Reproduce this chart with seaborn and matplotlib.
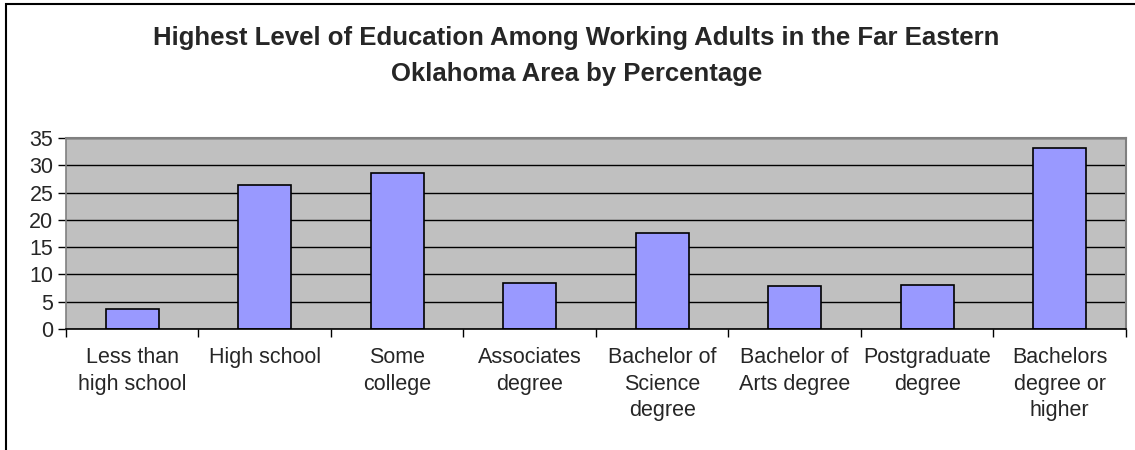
import matplotlib
matplotlib.use("Agg")
import matplotlib.pyplot as plt
from matplotlib.patches import Rectangle
from matplotlib.ticker import FixedLocator
import seaborn as sns
import pandas as pd

categories = [
    "Less than\nhigh school",
    "High school",
    "Some\ncollege",
    "Associates\ndegree",
    "Bachelor of\nScience\ndegree",
    "Bachelor of\nArts degree",
    "Postgraduate\ndegree",
    "Bachelors\ndegree or\nhigher",
]
percentages = [3.6, 26.3, 28.5, 8.4, 17.6, 7.8, 8.1, 33.2]
y_ticks = [0, 5, 10, 15, 20, 25, 30, 35]

title = ("Highest Level of Education Among Working Adults in the Far Eastern\n"
         "Oklahoma Area by Percentage")

sns.set_theme(style="white")
plt.rcParams["font.family"] = ["Liberation Sans", "DejaVu Sans"]

df = pd.DataFrame({"level": categories, "pct": percentages})

fig = plt.figure(figsize=(11.35, 4.5), dpi=100)
ax = fig.add_axes([0.0581, 0.2689, 0.9339, 0.4244])

sns.barplot(data=df, x="level", y="pct", ax=ax, color="#9999FF",
            saturation=1, width=0.4, edgecolor="black", linewidth=1.2)

ax.set_facecolor("#C0C0C0")
ax.set_ylim(0, 35)
ax.set_xlim(-0.5, len(categories) - 0.5)
ax.set_yticks(y_ticks)
ax.yaxis.grid(True, color="black", linewidth=1)
ax.set_axisbelow(True)
ax.set_xlabel("")
ax.set_ylabel("")

ax.tick_params(axis="y", which="major", direction="out", length=6, width=1,
               color="black", labelsize=15.5, pad=3, left=True)
ax.tick_params(axis="x", which="major", length=0, labelsize=15.5, pad=13)
ax.xaxis.set_minor_locator(FixedLocator([i - 0.5 for i in range(len(categories) + 1)]))
ax.tick_params(axis="x", which="minor", direction="out", length=6, width=1,
               color="black", bottom=True)
for lbl in ax.get_xticklabels():
    lbl.set_linespacing(1.35)
    lbl.set_multialignment("center")

for side in ["top", "right"]:
    ax.spines[side].set_color("#808080")
    ax.spines[side].set_linewidth(1.5)
ax.spines["left"].set_color("#808080")
ax.spines["left"].set_linewidth(1.2)
ax.spines["bottom"].set_color("black")
ax.spines["bottom"].set_linewidth(1.2)

fig.text(0.508, 0.876, title, ha="center", va="center", fontsize=18.5,
         fontweight="bold", linespacing=1.62)

# chart frame
fig.patches.append(Rectangle((5.5 / 1135, -0.1), 1.2, 1.1 - 4.5 / 450,
                             transform=fig.transFigure, fill=False,
                             edgecolor="black", linewidth=1.5))

fig.savefig("out.png", dpi=100)
